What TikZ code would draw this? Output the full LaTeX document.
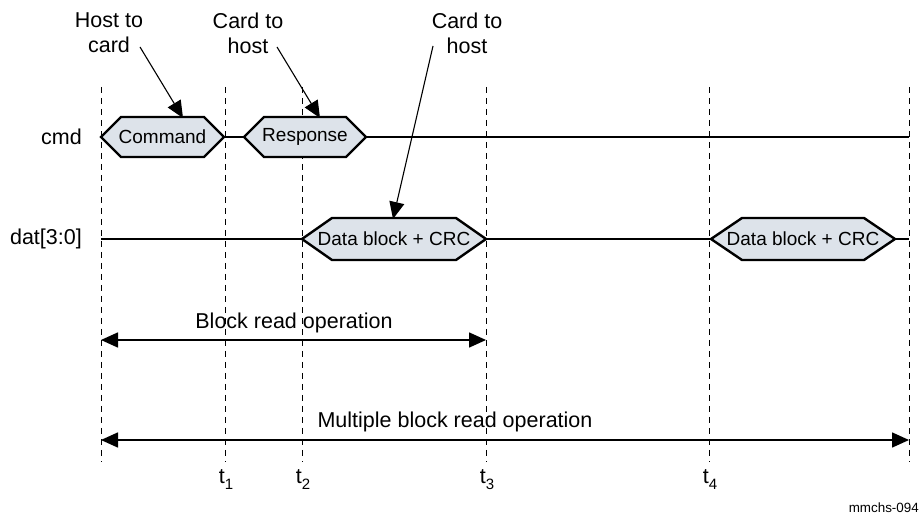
\documentclass[tikz,border=0pt]{standalone}
\usepackage{fontspec}
\setmainfont{Liberation Sans}
\usetikzlibrary{arrows.meta}
\definecolor{hexfill}{HTML}{DDE3EA}
\tikzset{
  sigline/.style={line width=2.4pt, line cap=butt},
  hexshape/.style={draw, line width=2.4pt, fill=hexfill, line join=miter},
  hextext/.style={font=\fontsize{19}{22}\selectfont, inner sep=0pt},
  lbl/.style={font=\fontsize{21.5}{25}\selectfont, inner sep=0pt, align=center},
  tick/.style={dash pattern=on 6pt off 5pt, line width=0.9pt},
  callout/.style={line width=1.1pt, -{Triangle[length=17pt,width=15pt]}},
  oparrow/.style={line width=1.6pt, {Triangle[length=17pt,width=15pt]}-{Triangle[length=17pt,width=15pt]}},
}
\newcommand{\hexa}[7]{% name, xl, xr, y, slant, half, text
  \draw[hexshape] (#2,#4) -- (#2+#5,#4-#6) -- (#3-#5,#4-#6) -- (#3,#4) -- (#3-#5,#4+#6) -- (#2+#5,#4+#6) -- cycle;
  \node[hextext] (#1) at ({(#2+#3)/2},#4) {#7};
  \coordinate (#1-l) at (#2,#4);
  \coordinate (#1-r) at (#3,#4);
}
\newcommand{\tsub}[1]{t\raisebox{-6pt}{\fontsize{15}{17}\selectfont #1}}
\begin{document}
\begin{tikzpicture}[x=1pt,y=-1pt]
\useasboundingbox (0,0) rectangle (919,521);
% dashed time markers
\foreach \x/\n in {101/a,225/b,302/c,486/d,709/e,909/f}{
  \coordinate (top\n) at (\x,87);
  \coordinate (bot\n) at (\x,462);
  \draw[tick] (top\n) -- (bot\n);
}
% signal labels
\node[lbl, anchor=east] (cmdl) at (82,137) {cmd};
\node[lbl, anchor=east] (datl) at (82,239) {dat[3:0]};
% cmd row
\hexa{cmdh}{101}{224}{137}{20}{20}{Command}
\hexa{resp}{244}{366}{137}{20}{20}{Response}
\coordinate (cmdend) at (909,137);
\draw[sigline] (cmdh-r) -- (resp-l);
\draw[sigline] (resp-r) -- (cmdend);
% data row
\coordinate (datstart) at (101,239);
\coordinate (datend) at (909,239);
\hexa{dblk}{302}{486}{239}{30}{21}{Data block + CRC}
\hexa{dblkb}{711}{895}{239}{31}{21}{Data block + CRC}
\draw[sigline] (datstart) -- (dblk-l);
\draw[sigline] (dblk-r) -- (dblkb-l);
\draw[sigline] (dblkb-r) -- (datend);
% callouts
\node[lbl] (h2c) at (109,33) {Host to\\card};
\node[lbl] (c2h) at (248,33) {Card to\\host};
\node[lbl] (c2hb) at (467,33) {Card to\\host};
\coordinate (s1) at (140,47);
\coordinate (e1) at (183,118);
\coordinate (s2) at (277,47);
\coordinate (e2) at (320,118);
\coordinate (s3) at (433,46);
\coordinate (e3) at (393,219);
\draw[callout] (s1) -- (e1);
\draw[callout] (s2) -- (e2);
\draw[callout] (s3) -- (e3);
% operations
\coordinate (br1) at (101,340);
\coordinate (br2) at (486,340);
\draw[oparrow] (br1) -- (br2);
\node[lbl] (brl) at (294,323) {Block read operation};
\coordinate (mb1) at (101,440);
\coordinate (mb2) at (909,440);
\draw[oparrow] (mb1) -- (mb2);
\node[lbl] (mbl) at (455,422) {Multiple block read operation};
% time labels
\node[lbl] (t1) at (226,480) {\tsub{1}};
\node[lbl] (t2) at (303,480) {\tsub{2}};
\node[lbl] (t3) at (487,480) {\tsub{3}};
\node[lbl] (t4) at (710,480) {\tsub{4}};
\node[font=\fontsize{13.4}{15}\selectfont, inner sep=0pt, anchor=east] (fig) at (919,508) {mmchs-094};
\end{tikzpicture}
\end{document}
